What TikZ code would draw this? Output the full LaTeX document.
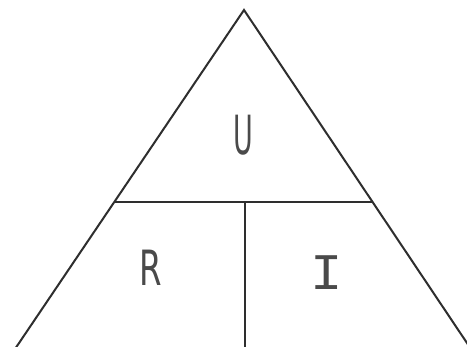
\documentclass[tikz,border=0pt]{standalone}
\usepackage{fontspec}
\setmainfont{DejaVu Sans}
\newfontfamily\monohand{Liberation Mono}
\definecolor{ink}{HTML}{2E2E2E}
\definecolor{pencil}{HTML}{4A4A4A}
\tikzset{
  edge/.style={draw=ink, line width=2pt, line join=miter},
  letter/.style={text=pencil, font=\fontsize{54}{54}\selectfont, inner sep=0pt}
}
\begin{document}
\begin{tikzpicture}[x=1pt,y=-1pt]
\useasboundingbox (0,0) rectangle (467,347);
\fill[white] (0,0) rectangle (467,347);
\coordinate (apex) at (244,10);
\coordinate (bl) at (15,349);
\coordinate (br) at (471,349);
\coordinate (ml) at (114,202);
\coordinate (mr) at (373,202);
\coordinate (mm) at (245,202);
\coordinate (mb) at (245,349);
\draw[edge] (bl) -- (apex) -- (br);
\draw[edge] (ml) -- (mr);
\draw[edge] (mm) -- (mb);
\node[letter] (U) at (243,135) {\scalebox{0.5}[1]{U}};
\node[letter] (R) at (151,268) {\scalebox{0.6}[0.9]{R}};
\node[letter] (I) at (327,273) {\monohand\scalebox{1}[0.95]{I}};
\end{tikzpicture}
\end{document}
